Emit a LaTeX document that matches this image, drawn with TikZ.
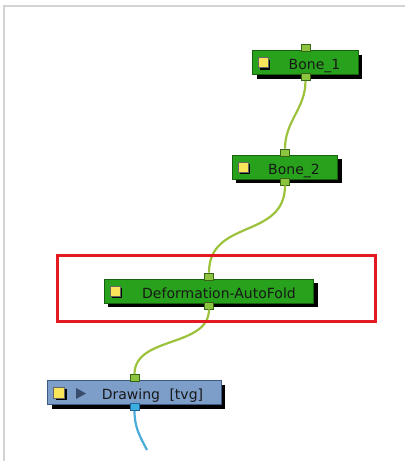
\documentclass[tikz,border=0pt]{standalone}
\usepackage{fontspec}
\setmainfont{DejaVu Sans}
\usetikzlibrary{positioning,shadows}
\definecolor{nodegreen}{RGB}{40,162,28}
\definecolor{greenedge}{RGB}{22,96,14}
\definecolor{portgreen}{RGB}{140,196,64}
\definecolor{portedge}{RGB}{56,100,24}
\definecolor{wiregreen}{RGB}{156,194,60}
\definecolor{drawblue}{RGB}{124,158,200}
\definecolor{blueedge}{RGB}{60,90,130}
\definecolor{portblue}{RGB}{60,174,224}
\definecolor{portblueedge}{RGB}{30,100,150}
\definecolor{wireblue}{RGB}{74,172,216}
\definecolor{iconyellow}{RGB}{250,228,90}
\definecolor{arrowgray}{RGB}{58,76,108}
\definecolor{hilite}{RGB}{228,26,34}
\definecolor{framegray}{RGB}{211,211,211}
\definecolor{textdark}{RGB}{24,24,24}
\tikzset{
  bonebox/.style={draw=greenedge,fill=nodegreen,line width=1pt,minimum height=24pt,
    inner xsep=18pt,inner ysep=0pt,text height=14pt,text depth=0pt,text=textdark,
    font=\fontsize{14}{16}\selectfont,
    drop shadow={shadow xshift=4pt,shadow yshift=-4pt,fill=black,opacity=1}},
  drawbox/.style={bonebox,draw=blueedge,fill=drawblue},
  icon/.style={draw=black!60,line width=.5pt,fill=iconyellow,minimum size=10pt,inner sep=0pt,
    drop shadow={shadow xshift=2pt,shadow yshift=-2pt,fill=black,opacity=1}},
  port/.style={draw=portedge,fill=portgreen,line width=.8pt,minimum width=9pt,minimum height=7pt,inner sep=0pt},
  blueport/.style={port,draw=portblueedge,fill=portblue},
  wire/.style={wiregreen,line width=2.2pt},
}
\begin{document}
\begin{tikzpicture}[x=1pt,y=-1pt]
  \useasboundingbox (0,0) rectangle (405,461);
  \draw [framegray,line width=2pt] (4,461) -- (4,6) -- (405,6);
  % nodes
  \node [bonebox] (b1) at (305.5,62.5) {\kern18pt Bone\_1};
  \node [bonebox] (b2) at (285,167) {\kern18pt Bone\_2};
  \node [bonebox] (fold) at (209,291) {\kern20pt Deformation-AutoFold};
  \node [drawbox] (drw) at (134.5,392.5) {\kern36pt Drawing\hspace{5pt} [tvg]};
  \node [icon,right=6pt of b1.west] (b1icon) {};
  \node [icon,right=6pt of b2.west] (b2icon) {};
  \node [icon,right=6pt of fold.west] (foldicon) {};
  \node [icon,minimum size=11pt,right=6pt of drw.west] (drwicon) {};
  \fill [arrowgray] (76,388) -- (76,399) -- (86,393.5) -- cycle;
  % ports
  \node [port] (b1in) at ([yshift=2pt]b1.north) {};
  \node [port] (b1out) at ([yshift=-2pt]b1.south) {};
  \node [port] (b2in) at ([yshift=2pt]b2.north) {};
  \node [port] (b2out) at ([yshift=-2pt]b2.south) {};
  \node [port] (foldin) at ([yshift=2pt]fold.north) {};
  \node [port] (foldout) at ([yshift=-2pt]fold.south) {};
  \node [port] (drwin) at ([yshift=2pt]drw.north) {};
  \node [blueport] (drwout) at ([yshift=-2pt]drw.south) {};
  \coordinate (drwend) at (147,450);
  % wires
  \draw [wire] (b1out.south) to[out=-90,in=90] (b2in.north);
  \draw [wire] (b2out.south) to[out=-90,in=90,looseness=1.2] (foldin.north);
  \draw [wire] (foldout.south) to[out=-90,in=90] (drwin.north);
  \draw [wireblue,line width=2.2pt] (drwout.south) to[out=-90,in=118] (drwend);
  % highlight
  \draw [hilite,line width=3pt] (57,255) rectangle (375,321);
\end{tikzpicture}
\end{document}
